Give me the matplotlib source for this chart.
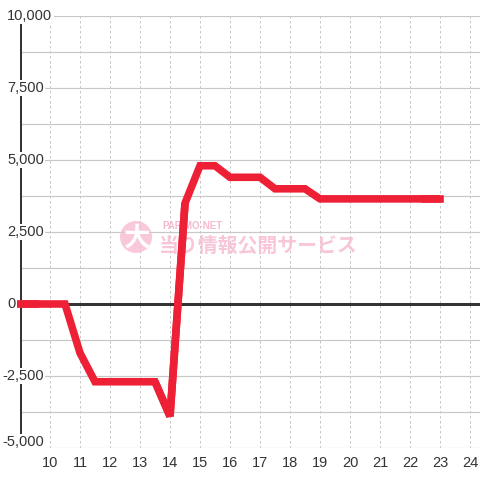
import matplotlib
matplotlib.use("Agg")
import matplotlib.pyplot as plt
import matplotlib.transforms as mtransforms
from matplotlib.patches import Circle

# ---- data ----
hours = [9, 9.5, 10, 10.5, 11, 11.5, 12, 12.5, 13, 13.5, 14, 14.5, 15, 15.5, 16, 16.5,
         17, 17.5, 18, 18.5, 19, 19.5, 20, 20.5, 21, 21.5, 22, 22.5, 23]
values = [0, 0, 0, 0, -1700, -2700, -2700, -2700, -2700, -2700, -3900, 3500, 4800, 4800,
          4400, 4400, 4400, 4000, 4000, 4000, 3650, 3650, 3650, 3650, 3650, 3650, 3650, 3650, 3650]
x_ticks = list(range(10, 25))
y_label_values = [10000, 7500, 5000, 2500, 0, -2500, -5000]
y_label_texts = ["10,000", "7,500", "5,000", "2,500", "0", "-2,500", "-5,000"]
y_grid = [-5000, -3750, -2500, -1250, 1250, 2500, 3750, 5000, 6250, 7500, 8750, 10000]

RED = "#EE2036"
DARK = "#333333"
GRID = "#c8c8c8"
PINK = "#F8BBD3"

plt.rcParams['font.family'] = ['Liberation Sans', 'DejaVu Sans']

fig = plt.figure(figsize=(4.8, 4.8), dpi=100)
W = H = 480.0
ax = fig.add_axes([20 / W, (480 - 448) / H, 460 / W, (448 - 16) / H])
XMAX = 9 + 460 / 30.0
ax.set_xlim(9, XMAX)
ax.set_ylim(-5000, 10000)
for s in ax.spines.values():
    s.set_visible(False)
ax.set_yticks([])
ax.set_xticks(x_ticks)
ax.set_xticklabels([str(t) for t in x_ticks], fontsize=10.5, color=DARK)
ax.tick_params(axis='x', length=0, pad=5.5)

px = 0.72  # one pixel in points
# vertical dashed grid
ax.vlines(x_ticks, -5000, 10000, colors=GRID, linewidth=1 * px,
          linestyles=(0, (2.5, 2.5)), zorder=1)
# horizontal grid
for g in y_grid:
    if g == -5000:
        ax.hlines(g, 9.9, XMAX, colors=GRID, linewidth=1.2 * px, zorder=1)
    else:
        ax.axhline(g, color=GRID, linewidth=1.2 * px, zorder=1)

# zero line and left axis line
ax.axhline(0, color=DARK, linewidth=3 * px, zorder=2)
ax.vlines([9], -5000, 10000, colors=DARK, linewidth=3 * px, zorder=2)

# watermark (pixel coords, top-left origin)
trans_px = mtransforms.Affine2D().scale(1, -1).translate(0, H)
circ = Circle((136, 237), 16, transform=trans_px, facecolor=PINK, edgecolor="none",
              zorder=3, alpha=0.8)
ax.add_artist(circ)
ax.text(137.5, 238, "大", transform=trans_px, family=['Noto Sans CJK JP', 'DejaVu Sans'],
        fontsize=19, fontweight='bold', color='white', ha='center', va='center', zorder=4)
ax.text(162, 226, "PAPIMO-NET", transform=trans_px, family=['Liberation Sans', 'DejaVu Sans'],
        fontsize=7, fontweight='bold', color="#F6AFCB", alpha=0.9, ha='left', va='center', zorder=3)
ax.text(159, 245, "当り情報公開サービス", transform=trans_px,
        family=['Noto Sans CJK JP', 'DejaVu Sans'],
        fontsize=14.3, fontweight='bold', color=PINK, alpha=0.85, ha='left', va='center', zorder=3)

# red line: miter joins, blunt (bevel) bottom at the 14:00 low point
lw = 7.6 * px
k = values.index(min(values))
ax.plot(hours[:k + 1], values[:k + 1], color=RED, linewidth=lw, solid_joinstyle='miter',
        solid_capstyle='butt', zorder=10, clip_on=False)
ax.plot(hours[k:], values[k:], color=RED, linewidth=lw, solid_joinstyle='miter',
        solid_capstyle='butt', zorder=10, clip_on=False)
ax.plot(hours[k - 1:k + 2], values[k - 1:k + 2], color=RED, linewidth=lw, solid_joinstyle='bevel',
        solid_capstyle='butt', zorder=10, clip_on=False)
ax.plot(hours[:2], values[:2], color=RED, linewidth=lw, solid_capstyle='projecting',
        zorder=10, clip_on=False)
ax.plot(hours[-2:], values[-2:], color=RED, linewidth=lw, solid_capstyle='projecting',
        zorder=10, clip_on=False)

# y labels with white background
blend = mtransforms.blended_transform_factory(ax.transAxes, ax.transData)
for v, t in zip(y_label_values, y_label_texts):
    xpix = 2 if v < 0 else 7
    yv = v + 200 if v == -5000 else v
    ax.text((xpix - 20) / 460.0, yv, t, transform=blend, ha='left', va='center',
            fontsize=10.5, color=DARK, zorder=20, clip_on=False,
            bbox=dict(facecolor='white', edgecolor='none', pad=1.0))

fig.savefig("out.png", dpi=100)
